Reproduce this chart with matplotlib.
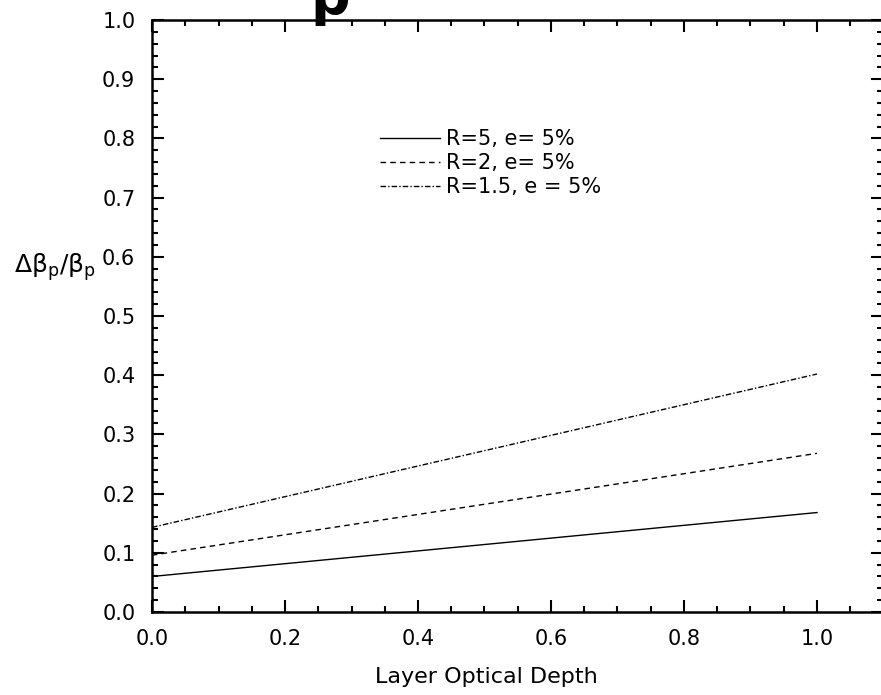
import matplotlib
matplotlib.use("Agg")
import matplotlib.pyplot as plt
from matplotlib.ticker import MultipleLocator

plt.rcParams['font.family'] = ['DejaVu Sans']
plt.rcParams['mathtext.fontset'] = 'dejavusans'

# Layer optical depth vs relative backscatter error
depth = [0.0, 1.0]
err_r5 = [0.060, 0.168]
err_r2 = [0.096, 0.268]
err_r15 = [0.143, 0.402]
labels = ["R=5, e= 5%", "R=2, e= 5%", "R=1.5, e = 5%"]

fig = plt.figure(figsize=(8.81, 6.95), dpi=100)
ax = fig.add_axes([152 / 881, 1 - 612 / 695, (883.5 - 152) / 881, (612 - 20) / 695])

ax.plot(depth, err_r5, color='black', lw=1.0, ls='-', label=labels[0])
ax.plot(depth, err_r2, color='black', lw=1.0, ls=(0, (4, 3)), label=labels[1])
ax.plot(depth, err_r15, color='black', lw=1.0, ls=(0, (4, 1.5, 1, 1.5)), label=labels[2])

ax.set_xlim(0, 1.1)
ax.set_ylim(0, 1.0)
ax.xaxis.set_minor_locator(MultipleLocator(0.05))
ax.yaxis.set_minor_locator(MultipleLocator(0.02))
ax.set_xticks([0.0, 0.2, 0.4, 0.6, 0.8, 1.0])
ax.set_xticklabels(['0.0', '0.2', '0.4', '0.6', '0.8', '1.0'])
ax.set_yticks([i / 10 for i in range(11)])
ax.set_yticklabels([f'{i / 10:.1f}' for i in range(11)])

ax.tick_params(which='both', direction='in', top=True, right=True, width=1.5)
ax.tick_params(which='major', length=8.5, labelsize=15, pad=12)
ax.tick_params(which='minor', length=4.5)
for s in ax.spines.values():
    s.set_linewidth(1.8)

fig.text(486 / 881, 1 - 683 / 695, 'Layer Optical Depth', fontsize=16,
         ha='center', va='baseline')
fig.text(14 / 881, 1 - 273 / 695, r'Δβ$_\mathrm{p}$/β$_\mathrm{p}$', fontsize=18,
         ha='left', va='baseline')

leg = ax.legend(loc='upper left', bbox_to_anchor=(228 / 731.5, 1 - 109 / 592),
                frameon=False, fontsize=15, handlelength=2.9, handletextpad=0.25,
                labelspacing=0.2, borderpad=0, borderaxespad=0)

# partially visible bold title above the frame
fig.text(330 / 881, 1 - 14 / 695, 'p', fontsize=40, fontweight='bold',
         ha='center', va='baseline')

fig.savefig('out.png', dpi=100)
